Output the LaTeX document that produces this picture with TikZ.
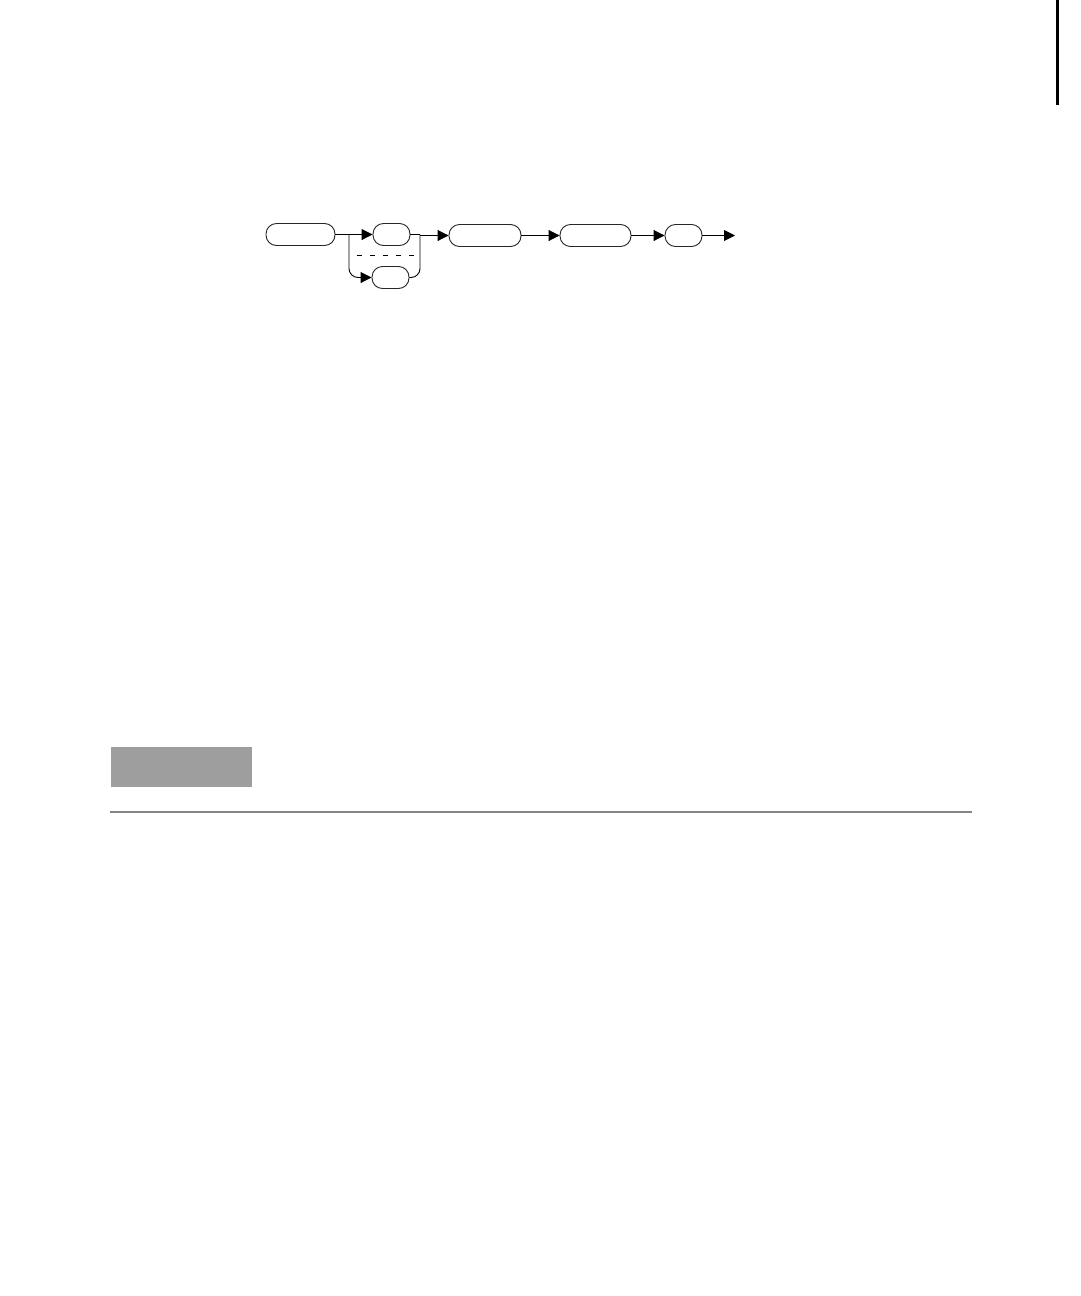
\documentclass[tikz,border=0pt]{standalone}
\usetikzlibrary{arrows.meta}
\definecolor{boxgray}{HTML}{9E9E9E}
\definecolor{rulegray}{HTML}{7F8787}
\begin{document}
\begin{tikzpicture}[x=1pt,y=-1pt,
  synbox/.style={draw=black!85, line width=0.9pt, rounded corners=10.5pt, inner sep=0pt, minimum height=22pt},
  conn/.style={draw=black, line width=0.9pt},
  arr/.style={conn, -{Triangle[length=11pt,width=11pt]}}]
\useasboundingbox (0,0) rectangle (1080,1296);
\fill[white] (0,0) rectangle (1080,1296);
% thumb tab
\fill[black] (1056,0) rectangle (1059,105);
% nodes
\node[synbox, minimum width=69pt] (b1) at (300.5,234.5) {};
\node[synbox, minimum width=37pt] (b2) at (391.5,234.5) {};
\node[synbox, minimum width=37pt] (b2low) at (390.5,277.5) {};
\node[synbox, minimum width=72pt] (b3) at (485,235.5) {};
\node[synbox, minimum width=71pt] (b4) at (595.5,235.5) {};
\node[synbox, minimum width=37pt] (b5) at (683.5,235.5) {};
\coordinate (jl) at (349,234.5);
\coordinate (jr) at (420,234.5);
\coordinate (endp) at (735,235.5);
% connectors
\draw[conn] (b1.east) -- (jl);
\draw[arr] (jl) -- (b2.west);
\draw[arr, rounded corners=9pt] (jl) |- (b2low.west);
\draw[conn] (b2.east) -- (jr);
\draw[conn, rounded corners=9pt] (b2low.east) -| (jr);
\draw[arr] (jr) |- (b3.west);
\draw[arr] (b3.east) -- (b4.west);
\draw[arr] (b4.east) -- (b5.west);
\draw[arr] (b5.east) -- (endp);
\draw[conn, dash pattern=on 5pt off 8pt] (357,255) -- (416,255);
% grey block and rule
\fill[boxgray] (111,747) rectangle (252,787);
\draw[rulegray, line width=1.2pt] (110,812) -- (972,812);
\end{tikzpicture}
\end{document}
